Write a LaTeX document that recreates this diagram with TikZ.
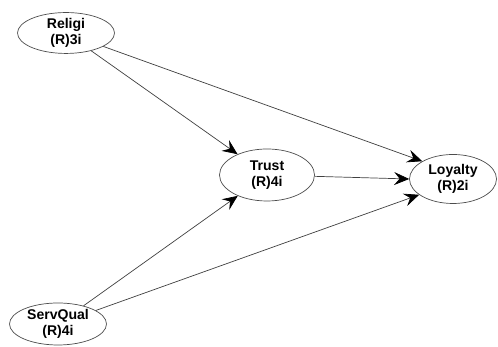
\documentclass[tikz,border=0pt]{standalone}
\usepackage{fontspec}
\setmainfont{Liberation Sans}
\usetikzlibrary{shapes.geometric,arrows.meta}

\begin{document}
\begin{tikzpicture}[
  construct/.style={ellipse,draw=black!70,thin,inner sep=0pt,align=center,font=\fontsize{8}{9}\selectfont\bfseries},
  path/.style={draw=black!75,thin,-{Stealth[length=3mm,width=2.6mm,inset=1.1mm,black]}}]
\useasboundingbox (0,0) rectangle (9.96,6.94);
\node[construct,minimum width=1.94cm,minimum height=0.78cm] (Religi) at (1.32,6.28) {Religi\\(R)3i};
\node[construct,minimum width=1.90cm,minimum height=1.04cm] (Trust) at (5.34,3.44) {Trust\\(R)4i};
\node[construct,minimum width=1.74cm,minimum height=0.98cm] (Loyalty) at (9.06,3.36) {Loyalty\\(R)2i};
\node[construct,minimum width=1.94cm,minimum height=0.84cm] (ServQual) at (1.16,0.46) {ServQual\\(R)4i};

\draw[path] (Religi) -- (Trust);
\draw[path] (Religi) -- (Loyalty.150);
\draw[path] (Trust) -- (Loyalty.180);
\draw[path] (ServQual) -- (Trust);
\draw[path] (ServQual) -- (Loyalty.205);
\end{tikzpicture}
\end{document}
